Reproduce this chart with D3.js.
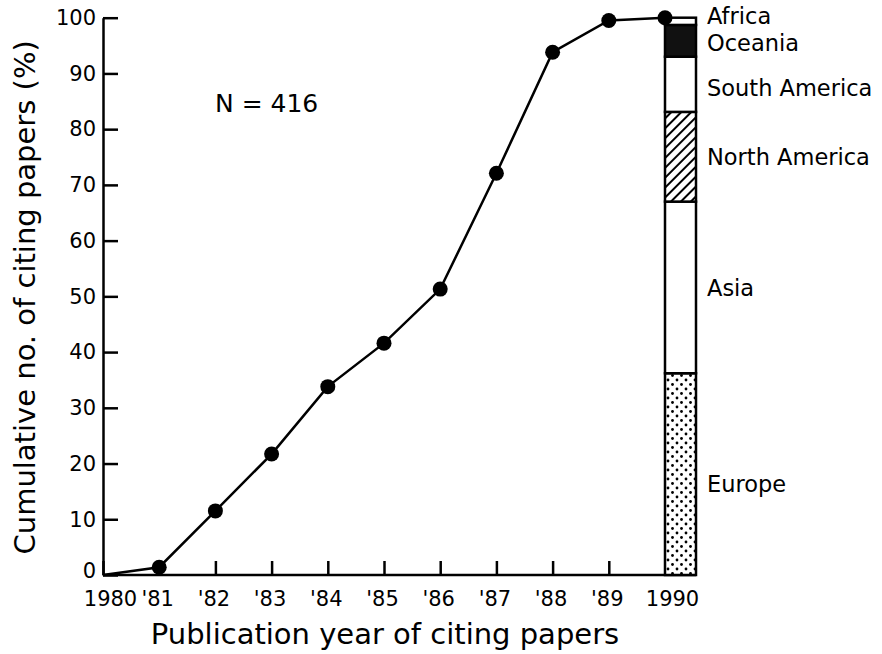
<!DOCTYPE html>
<html>
<head>
<meta charset="utf-8">
<script src="https://cdn.jsdelivr.net/npm/d3@7"></script>
<style>
  body { margin: 0; background: #fff; }
  text { font-family: "DejaVu Sans", sans-serif; fill: #000; }
</style>
</head>
<body>
<script>
// cumulative share of citing papers by year
var years = [1980, 1981, 1982, 1983, 1984, 1985, 1986, 1987, 1988, 1989, 1990]
var cumulative = [0, 1.4, 11.5, 21.7, 33.8, 41.6, 51.3, 72.1, 93.8, 99.5, 100]
var yearLabels = ['1980', "'81", "'82", "'83", "'84", "'85", "'86", "'87", "'88", "'89", '1990']
var yTicks = [0, 10, 20, 30, 40, 50, 60, 70, 80, 90, 100]

// regional split of the 416 papers (stacked bar at 1990)
var regions = ['Europe', 'Asia', 'North America', 'South America', 'Oceania', 'Africa']
var regionShares = [36.2, 30.8, 16.1, 9.9, 5.7, 1.3]

var W = 882, H = 654
var svg = d3.select('body').append('svg').attr('width', W).attr('height', H)

var defs = svg.append('defs')
var dots = defs.append('pattern').attr('id', 'dots').attr('patternUnits', 'userSpaceOnUse')
  .attr('width', 9).attr('height', 9)
dots.append('rect').attr('width', 9).attr('height', 9).attr('fill', '#fff')
dots.append('circle').attr('cx', 2).attr('cy', 2).attr('r', 1.4).attr('fill', '#000')
dots.append('circle').attr('cx', 6.5).attr('cy', 6.5).attr('r', 1.4).attr('fill', '#000')

var hatch = defs.append('pattern').attr('id', 'hatch').attr('patternUnits', 'userSpaceOnUse')
  .attr('width', 7).attr('height', 7).attr('patternTransform', 'rotate(45)')
hatch.append('rect').attr('width', 7).attr('height', 7).attr('fill', '#fff')
hatch.append('line').attr('x1', 0).attr('y1', 0).attr('x2', 0).attr('y2', 7)
  .attr('stroke', '#000').attr('stroke-width', 4)

var regionFill = {
  'Europe': 'url(#dots)',
  'Asia': '#fff',
  'North America': 'url(#hatch)',
  'South America': '#fff',
  'Oceania': '#111',
  'Africa': '#fff'
}
var labelNudge = { 'Europe': 10, 'Africa': -5, 'Oceania': 2, 'South America': 4 }

var x = d3.scaleLinear().domain([1980, 1990]).range([103, 665])
var y = d3.scaleLinear().domain([0, 100]).range([575, 17.7])
var barW = 31

// y axis, ticks pointing inward
var yAxis = svg.append('g').attr('transform', 'translate(' + x(1980) + ',0)')
  .call(d3.axisLeft(y).tickValues(yTicks).tickSizeInner(-15).tickSizeOuter(0).tickPadding(7))
yAxis.selectAll('path, line').attr('stroke', '#000').attr('stroke-width', 2.5)
yAxis.selectAll('text').style('font-size', '21px').attr('fill', '#000')
  .attr('dy', function (d) { return d === 0 ? '0.1em' : '0.32em' })

// x axis
var xAxis = svg.append('g').attr('transform', 'translate(0,' + y(0) + ')')
  .call(d3.axisBottom(x).tickValues(years).tickFormat(function (d, i) { return yearLabels[i] })
    .tickSizeInner(-14).tickSizeOuter(0).tickPadding(16))
xAxis.select('.domain').remove()
xAxis.selectAll('line').attr('stroke', '#000').attr('stroke-width', 2.5)
xAxis.selectAll('text').style('font-size', '21px').attr('fill', '#000')
  .attr('dx', function (d) { return (d === 1980 || d === 1990) ? 7 : -2 })
svg.append('line').attr('x1', x(1980)).attr('x2', x(1990) + barW)
  .attr('y1', y(0)).attr('y2', y(0)).attr('stroke', '#000').attr('stroke-width', 2.5)

// stacked regional bar
var stacked = []
var acc = 0
regions.forEach(function (r, i) {
  stacked.push({ name: r, y0: acc, y1: acc + regionShares[i] })
  acc += regionShares[i]
})
svg.selectAll('rect.seg').data(stacked).enter().append('rect').attr('class', 'seg')
  .attr('x', x(1990)).attr('width', barW)
  .attr('y', function (d) { return y(d.y1) })
  .attr('height', function (d) { return y(d.y0) - y(d.y1) })
  .attr('fill', function (d) { return regionFill[d.name] })
  .attr('stroke', '#000').attr('stroke-width', 2.5)

svg.selectAll('text.reg').data(stacked).enter().append('text').attr('class', 'reg')
  .attr('x', x(1990) + barW + 11)
  .attr('y', function (d) { return y((d.y0 + d.y1) / 2) + (labelNudge[d.name] || 0) })
  .attr('dy', '0.36em')
  .style('font-size', '22.5px')
  .text(function (d) { return d.name })

// cumulative line
var pts = years.map(function (yr, i) { return [yr, cumulative[i]] })
svg.append('path').datum(pts)
  .attr('d', d3.line().x(function (d) { return x(d[0]) }).y(function (d) { return y(d[1]) }))
  .attr('fill', 'none').attr('stroke', '#000').attr('stroke-width', 2.5)
svg.selectAll('circle.pt').data(pts.slice(1)).enter().append('circle').attr('class', 'pt')
  .attr('cx', function (d) { return x(d[0]) }).attr('cy', function (d) { return y(d[1]) })
  .attr('r', 7.5).attr('fill', '#000')

svg.append('text').attr('x', 215).attr('y', 103).attr('dy', '0.36em')
  .style('font-size', '25px').text('N = 416')

svg.append('text').attr('transform', 'translate(35,' + (y(50) + 1) + ') rotate(-90)')
  .attr('text-anchor', 'middle').style('font-size', '29px')
  .text('Cumulative no. of citing papers (%)')

svg.append('text').attr('x', 385).attr('y', 634).attr('dy', '0.36em')
  .attr('text-anchor', 'middle').style('font-size', '29px')
  .text('Publication year of citing papers')
</script>
</body>
</html>
